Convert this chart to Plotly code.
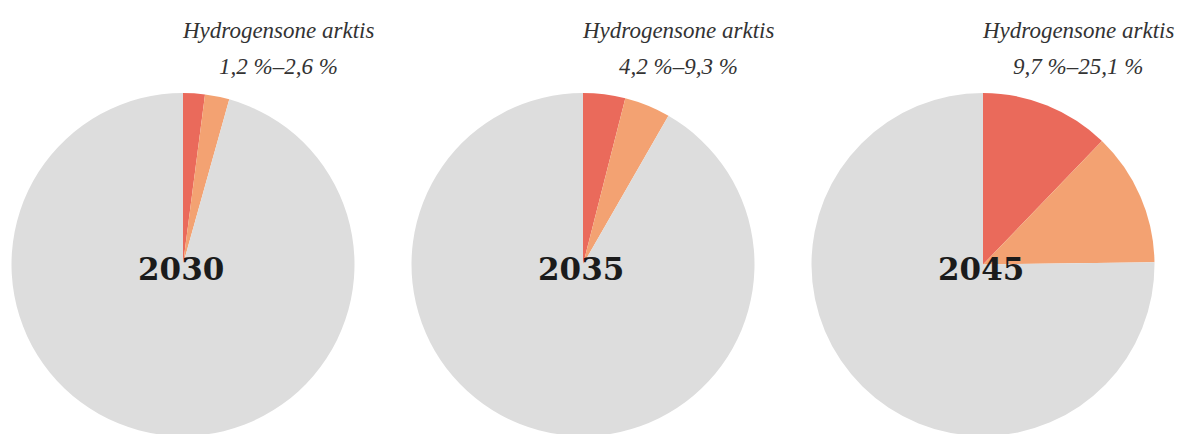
import plotly.graph_objects as go

# Page is 1177x434. The body margin is removed (post_script) and overflow is
# hidden, so the figure starts at page pixel (0, 0); it is made slightly taller
# than the window so the bottom of the pies is cut off as in the reference.
PAGE_W, PAGE_H = 1177, 434
W, H = 1177, 440

years = ["2030", "2035", "2045"]
range_labels = ["1,2 %–2,6 %", "4,2 %–9,3 %", "9,7 %–25,1 %"]
title_text = "Hydrogensone arktis"
slice_names = ["Lav", "Høy", "Resten"]
# slice sizes (percent) as drawn in the picture
low_vals = [2.05, 3.97, 12.2]
high_extra_vals = [2.3, 4.33, 12.6]

colors = ["#EA6A5B", "#F3A272", "#DDDDDD"]

centers_px = [183, 583, 983]
radius_px = 171.5
top_px = 93


def px_x(px):
    return px / W


def px_y(py):
    return (H - py) / H


fig = go.Figure()
for i, yr in enumerate(years):
    rest = 100 - low_vals[i] - high_extra_vals[i]
    cx = centers_px[i]
    fig.add_trace(go.Pie(
        values=[low_vals[i], high_extra_vals[i], rest],
        labels=slice_names,
        sort=False,
        direction="clockwise",
        rotation=0,
        textinfo="none",
        hoverinfo="label+percent",
        marker=dict(colors=colors, line=dict(width=0)),
        showlegend=False,
        domain=dict(
            x=[max(0, px_x(cx - radius_px)), min(1, px_x(cx + radius_px))],
            y=[max(0, px_y(top_px + 2 * radius_px)), min(1, px_y(top_px))],
        ),
    ))
    # year label
    fig.add_annotation(
        x=px_x(cx - 2), y=px_y(269), xref="paper", yref="paper",
        text=f"<b>{yr}</b>", showarrow=False, xanchor="center", yanchor="middle",
        font=dict(family="DejaVu Serif", size=31, color="#1b1b1b"),
    )
    # title lines
    fig.add_annotation(
        x=px_x(cx + 95), y=px_y(30), xref="paper", yref="paper",
        text=title_text, showarrow=False, xanchor="center", yanchor="middle",
        font=dict(family="Liberation Serif", size=23, color="#333333", style="italic"),
    )
    fig.add_annotation(
        x=px_x(cx + 95), y=px_y(67), xref="paper", yref="paper",
        text=range_labels[i], showarrow=False, xanchor="center", yanchor="middle",
        font=dict(family="Liberation Serif", size=23, color="#333333", style="italic"),
    )

fig.update_layout(
    width=W, height=H, autosize=False,
    margin=dict(l=0, r=0, t=0, b=0),
    paper_bgcolor="white", plot_bgcolor="white",
)
fig.write_html(
    "out.html",
    config={"displayModeBar": False},
    post_script="document.body.style.margin='0';document.body.style.overflow='hidden';",
)
